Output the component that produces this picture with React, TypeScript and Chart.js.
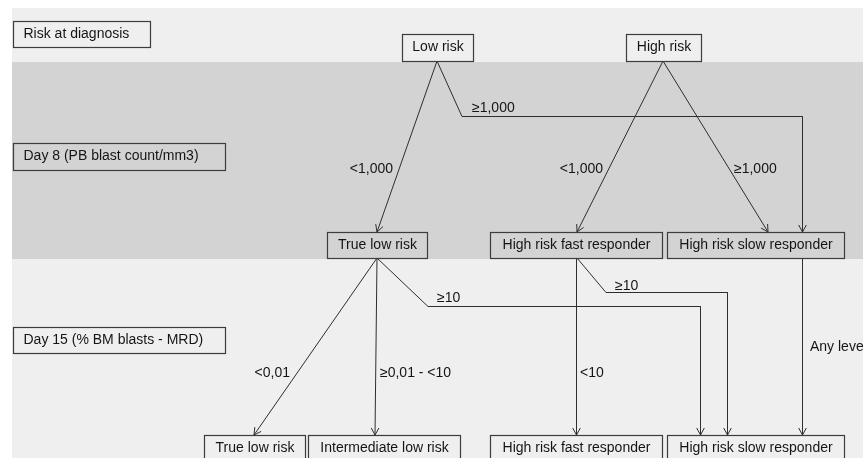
import { useEffect, useRef } from "react";
import { Chart, registerables } from "chart.js";

Chart.register(...registerables);

// ---- Data ----
const bandTops = [8, 62, 259];
const bandBottoms = [62, 259, 458];

const nodeLabels = [
  "Risk at diagnosis",
  "Low risk",
  "High risk",
  "Day 8 (PB blast count/mm3)",
  "True low risk",
  "High risk fast responder",
  "High risk slow responder",
  "Day 15 (% BM blasts - MRD)",
  "True low risk",
  "Intermediate low risk",
  "High risk fast responder",
  "High risk slow responder",
];
const nodeX0 = [13, 402, 626, 13, 327, 490, 667, 13, 204, 308, 490, 667];
const nodeX1 = [150, 473, 701, 225, 427, 662, 844, 225, 305, 460, 662, 844];
const nodeY0 = [21, 34, 34, 143, 232, 232, 232, 327, 435, 435, 435, 435];
const nodeY1 = [47, 61, 61, 170, 258, 258, 258, 353, 462, 462, 462, 462];
const stageNodes = [0, 3, 7];

const edgeLabels = ["<1,000", "≥1,000", "<1,000", "≥1,000", "<0,01", "≥0,01 - <10", "≥10", "<10", "≥10", "Any level"];
const edgeX = [
  [437, 377],
  [437, 462, 802.5, 802.5],
  [663, 577],
  [663, 768],
  [377, 254],
  [377, 375],
  [377, 428, 700.5, 700.5],
  [576.5, 576.5],
  [577, 606, 727.5, 727.5],
  [802.5, 802.5],
];
const edgeY = [
  [61, 232],
  [61, 116.5, 116.5, 232],
  [61, 232],
  [61, 232],
  [258, 435],
  [258, 435],
  [258, 306.5, 306.5, 435],
  [258, 435],
  [258, 292.5, 292.5, 435],
  [258, 435],
];
const labelX = [393, 472, 603, 734, 290, 380, 437, 580, 615, 810];
const labelY = [169, 108, 169, 169, 373, 373, 298, 373, 286, 347];
const labelRight = [true, false, true, false, true, false, false, false, false, false];

// ---- Styles ----
const FONT = '14px "Liberation Sans", Arial, sans-serif';
const TEXT = "#151515";
const LINE = "#2e2e2e";
const BOX = "#3c3c3c";
const BAND_COLORS = ["#efefef", "#d3d3d3", "#efefef"];

export default function App() {
  const ref = useRef<HTMLCanvasElement>(null);

  useEffect(() => {
    const canvas = ref.current!;
    const datasets = edgeLabels.map((lab, i) => ({
      label: lab,
      data: edgeX[i].map((x, j) => ({ x, y: edgeY[i][j] })),
      showLine: true,
      borderColor: LINE,
      borderWidth: 1,
      pointRadius: 0,
      pointHoverRadius: 0,
      fill: false,
      tension: 0,
    }));

    const flowPlugin = {
      id: "flow",
      beforeDatasetsDraw(chart: any) {
        const ctx = chart.ctx as CanvasRenderingContext2D;
        const xs = chart.scales.x;
        const ys = chart.scales.y;
        ctx.save();
        ctx.fillStyle = "#ffffff";
        ctx.fillRect(0, 0, chart.width, chart.height);
        bandTops.forEach((t, i) => {
          const x0 = xs.getPixelForValue(12);
          const x1 = xs.getPixelForValue(863);
          const y0 = ys.getPixelForValue(t);
          const y1 = ys.getPixelForValue(bandBottoms[i]);
          ctx.fillStyle = BAND_COLORS[i];
          ctx.fillRect(x0, y0, x1 - x0, y1 - y0);
        });
        ctx.restore();
      },
      afterDatasetsDraw(chart: any) {
        const ctx = chart.ctx as CanvasRenderingContext2D;
        const xs = chart.scales.x;
        const ys = chart.scales.y;
        ctx.save();
        // arrowheads
        ctx.strokeStyle = LINE;
        ctx.lineWidth = 1;
        edgeX.forEach((ex, i) => {
          const n = ex.length;
          const px = xs.getPixelForValue(ex[n - 1]);
          const py = ys.getPixelForValue(edgeY[i][n - 1]);
          const qx = xs.getPixelForValue(ex[n - 2]);
          const qy = ys.getPixelForValue(edgeY[i][n - 2]);
          const a = Math.atan2(py - qy, px - qx);
          const L = 8;
          const spread = 0.5;
          ctx.beginPath();
          ctx.moveTo(px - L * Math.cos(a - spread), py - L * Math.sin(a - spread));
          ctx.lineTo(px, py);
          ctx.lineTo(px - L * Math.cos(a + spread), py - L * Math.sin(a + spread));
          ctx.stroke();
        });
        // boxes
        ctx.font = FONT;
        ctx.textBaseline = "middle";
        nodeLabels.forEach((lab, i) => {
          const x0 = Math.round(xs.getPixelForValue(nodeX0[i])) + 0.5;
          const x1 = Math.round(xs.getPixelForValue(nodeX1[i])) + 0.5;
          const y0 = Math.round(ys.getPixelForValue(nodeY0[i])) + 0.5;
          const y1 = Math.round(ys.getPixelForValue(nodeY1[i])) + 0.5;
          ctx.strokeStyle = BOX;
          ctx.lineWidth = 1.2;
          ctx.strokeRect(x0, y0, x1 - x0, y1 - y0);
          ctx.fillStyle = TEXT;
          const cy = ys.getPixelForValue(nodeY0[i] + 13.5);
          if (stageNodes.includes(i)) {
            ctx.textAlign = "left";
            ctx.fillText(lab, x0 + 10, cy);
          } else {
            ctx.textAlign = "center";
            ctx.fillText(lab, (x0 + x1) / 2, cy);
          }
        });
        // edge labels
        edgeLabels.forEach((lab, i) => {
          ctx.textAlign = labelRight[i] ? "right" : "left";
          ctx.fillStyle = TEXT;
          ctx.fillText(lab, xs.getPixelForValue(labelX[i]), ys.getPixelForValue(labelY[i]));
        });
        ctx.restore();
      },
    };

    const chart = new Chart(canvas, {
      type: "scatter",
      data: { datasets: datasets as any },
      options: {
        responsive: false,
        animation: false,
        events: [],
        layout: { padding: 0 },
        scales: {
          x: { type: "linear", min: 0, max: 863, display: false },
          y: { type: "linear", min: 0, max: 458, reverse: true, display: false },
        },
        plugins: { legend: { display: false }, tooltip: { enabled: false } },
      },
      plugins: [flowPlugin],
    });
    return () => chart.destroy();
  }, []);

  return (
    <div style={{ position: "absolute", left: 0, top: 0, width: 863, height: 458, background: "#fff" }}>
      <canvas ref={ref} width={863} height={458} style={{ display: "block", width: 863, height: 458 }} />
    </div>
  );
}
